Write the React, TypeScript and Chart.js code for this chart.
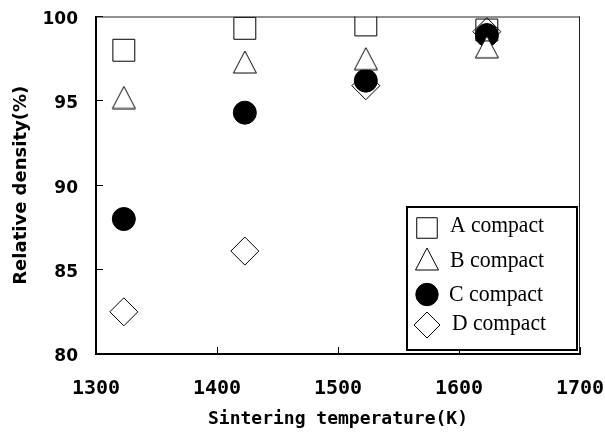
import React, { useEffect, useRef } from 'react';
import { Chart, registerables } from 'chart.js';
import { drawPoint } from 'chart.js/helpers';

Chart.register(...registerables);

// ---- data ----
const temperatures = [1323, 1423, 1523, 1623];
const compactA = [98.0, 99.3, 99.5, 99.2];
const compactB = [95.2, 97.3, 97.5, 98.2];
const compactC = [88.0, 94.3, 96.2, 98.9];
const compactD = [82.5, 86.1, 95.9, 99.1];
const seriesLabels = ['A compact', 'B compact', 'C compact', 'D compact'];
const xTickValues = [1300, 1400, 1500, 1600, 1700];
const yTickValues = [80, 85, 90, 95, 100];
const xTitle = 'Sintering temperature(K)';
const yTitle = 'Relative density(%)';

function makeTriangle(): HTMLCanvasElement {
  const c = document.createElement('canvas');
  c.width = 26;
  c.height = 24;
  const ctx = c.getContext('2d')!;
  ctx.beginPath();
  ctx.moveTo(13, 1);
  ctx.lineTo(24.5, 23);
  ctx.lineTo(1.5, 23);
  ctx.closePath();
  ctx.fillStyle = '#fff';
  ctx.fill();
  ctx.strokeStyle = '#000';
  ctx.lineWidth = 1;
  ctx.stroke();
  return c;
}

const frameAndLegend = {
  id: 'frameAndLegend',
  afterDatasetsDraw(chart: any) {
    const { ctx, chartArea } = chart;
    ctx.save();
    // top and right frame
    ctx.strokeStyle = '#222';
    ctx.lineWidth = 1;
    ctx.beginPath();
    ctx.moveTo(chartArea.left, chartArea.top + 0.5);
    ctx.lineTo(chartArea.right, chartArea.top + 0.5);
    ctx.moveTo(chartArea.right - 0.5, chartArea.top);
    ctx.lineTo(chartArea.right - 0.5, chartArea.bottom);
    ctx.stroke();

    // legend box
    const bx = 407, by = 207, bw = 170, bh = 143;
    ctx.fillStyle = '#fff';
    ctx.fillRect(bx, by, bw, bh);
    ctx.strokeStyle = '#000';
    ctx.lineWidth = 2;
    ctx.strokeRect(bx, by, bw, bh);

    const rowsY = [228, 259, 294.5, 325];
    const textBase = [231.5, 266.5, 301, 330];
    const textX = [450, 450, 449, 452];
    chart.data.datasets.forEach((ds: any, i: number) => {
      ctx.fillStyle = ds.backgroundColor;
      ctx.strokeStyle = ds.borderColor;
      ctx.lineWidth = ds.borderWidth;
      drawPoint(ctx, { pointStyle: ds.pointStyle, radius: ds.legendRadius, borderWidth: ds.borderWidth, rotation: 0 }, 427, rowsY[i]);
      ctx.fillStyle = '#000';
      ctx.font = '23px "Liberation Serif", "Times New Roman", serif';
      ctx.textAlign = 'left';
      ctx.textBaseline = 'alphabetic';
      ctx.fillText(ds.label, textX[i], textBase[i], 94);
    });
    ctx.restore();
  },
};

const zeroPad = (s: any) => {
  s.paddingLeft = 0;
  s.paddingRight = 0;
  s.paddingTop = 0;
  s.paddingBottom = 0;
};

export default function App() {
  const ref = useRef<HTMLCanvasElement | null>(null);

  useEffect(() => {
    document.body.style.margin = '0';
    const canvas = ref.current!;
    const tri = makeTriangle();
    const toPts = (vals: number[]) => temperatures.map((t, i) => ({ x: t, y: vals[i] }));
    const chart = new Chart(canvas, {
      type: 'scatter',
      data: {
        datasets: [
          { label: seriesLabels[0], data: toPts(compactA), pointStyle: 'rect', pointRadius: 15.5, legendRadius: 14.5, backgroundColor: 'rgba(255,255,255,0)', borderColor: '#000', borderWidth: 1 } as any,
          { label: seriesLabels[1], data: toPts(compactB), pointStyle: tri, pointRadius: 13, legendRadius: 13, backgroundColor: 'rgba(255,255,255,0)', borderColor: '#000', borderWidth: 1 } as any,
          { label: seriesLabels[2], data: toPts(compactC), pointStyle: 'circle', pointRadius: 11.5, legendRadius: 11.2, backgroundColor: '#000', borderColor: '#000', borderWidth: 1 } as any,
          { label: seriesLabels[3], data: toPts(compactD), pointStyle: 'rectRot', pointRadius: 14, legendRadius: 13, backgroundColor: 'rgba(255,255,255,0)', borderColor: '#000', borderWidth: 1 } as any,
        ],
      },
      options: {
        animation: false,
        responsive: false,
        devicePixelRatio: 1,
        layout: { padding: { top: 16, right: 25, left: 0, bottom: 0 } },
        plugins: {
          legend: { display: false },
          tooltip: { enabled: false },
        },
        scales: {
          x: {
            type: 'linear',
            min: 1300,
            max: 1700,
            z: 1,
            afterFit: (s: any) => { s.height = 78; zeroPad(s); },
            afterBuildTicks: (s: any) => { s.ticks = xTickValues.map((v) => ({ value: v })); },
            ticks: {
              color: '#000',
              padding: 30,
              callback: (v: any) => String(v),
              font: { family: '"DejaVu Sans Mono", monospace', weight: 'bold', size: 20 },
            },
            grid: { drawOnChartArea: false, drawTicks: true, tickLength: -7, color: '#000', tickWidth: 1 },
            border: { color: '#000', width: 2 },
            title: {
              display: true,
              text: xTitle,
              color: '#000',
              padding: { top: 0, bottom: 2 },
              font: { family: '"DejaVu Sans Mono", monospace', weight: 'bold', size: 18 },
            },
          },
          y: {
            type: 'linear',
            min: 80,
            max: 100,
            afterFit: (s: any) => { s.width = 96; zeroPad(s); },
            afterBuildTicks: (s: any) => { s.ticks = yTickValues.map((v) => ({ value: v })); },
            ticks: {
              color: '#000',
              padding: 25,
              labelOffset: 3,
              callback: (v: any) => String(v),
              font: { family: '"DejaVu Sans", sans-serif', weight: 'bold', size: 17 },
            },
            grid: { drawOnChartArea: false, drawTicks: true, tickLength: -7, color: '#000', tickWidth: 1 },
            border: { color: '#000', width: 2 },
            title: {
              display: true,
              text: yTitle,
              color: '#000',
              padding: { top: 11, bottom: 0 },
              font: { family: '"DejaVu Sans", sans-serif', weight: 'bold', size: 18 },
            },
          },
        },
      } as any,
      plugins: [frameAndLegend],
    });
    return () => chart.destroy();
  }, []);

  return (
    <div style={{ width: 605, height: 432, background: '#fff' }}>
      <canvas ref={ref} width={605} height={432} style={{ display: 'block' }} />
    </div>
  );
}
